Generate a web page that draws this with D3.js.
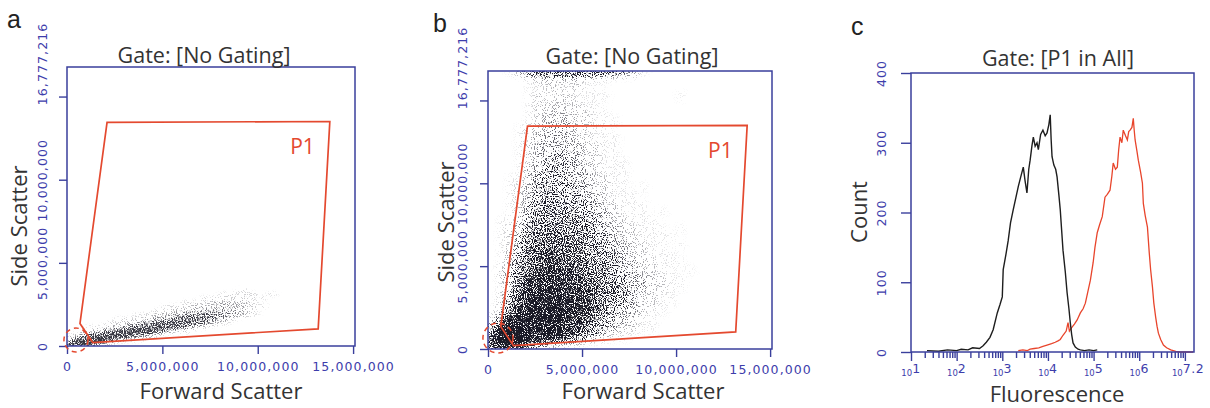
<!DOCTYPE html>
<html>
<head>
<meta charset="utf-8">
<script src="https://cdn.jsdelivr.net/npm/d3@7"></script>
<style>
  body { margin: 0; background: #fff; }
  svg { display: block; }
  .lab { font-family: "Open Sans", sans-serif; fill: #333; }
  .letter { font-family: "Liberation Sans", Arial, sans-serif; fill: #222; }
  .tick text, .dec { font-family: "DejaVu Sans", sans-serif; fill: #3d3dab; font-size: 12.5px; letter-spacing: 1.1px; }
  .tick line { stroke: #3a3f9c; stroke-width: 1.4; }
</style>
</head>
<body>
<div id="chart"></div>
<script>
// ---- data ----
const FSC_MAX = 15.1e6
const SSC_MAX = 16777216
const scatterTicks = [0, 5e6, 10e6, 15e6]
const fscTickLabels = ["0", "5,000,000", "10,000,000", "15,000,000"]
const sscTickLabels = ["0", "5,000,000", "10,000,000", ""]
const sscTopLabel = "16,777,216"

// P1 gate polygon (same gate on a and b), FSC / SSC
const gateP1 = [[2.1e6, 13.45e6], [13.78e6, 13.5e6], [13.17e6, 1.03e6], [1.35e6, 0.21e6], [0.68e6, 1.35e6]]
// small dashed gate round the origin: cx, cy, rx, ry
const originGateA = [0.47e6, 0.36e6, 0.63e6, 0.72e6]
const originGateB = [0.53e6, 0.66e6, 0.8e6, 0.9e6]

// event density (0-9), cells of 0.5M FSC x 0.25M SSC, top row first
const densityA = [
  "000000000000000000000000",
  "000000000000000000000000",
  "000000000000000000100000",
  "000000000000000011110100",
  "000000000000001111111000",
  "000000000000111222210000",
  "000000000011122232211000",
  "000000000112233333210000",
  "000000011223445443210000",
  "000001112345565431000000",
  "000011234667664210000000",
  "001123467776421000000000",
  "012357887531100000000000",
  "136798743100000000000000",
  "479963110000000000000000",
  "896310000000000000000000"
]
const cellA = [0.5e6, 0.25e6]

// event density (0-9), cells of 0.5M x 0.5M, top row first
const densityB = [
  "001356666666554310000000",
  "000012222211100000000000",
  "000011221211000000000000",
  "000012122111100000001000",
  "000012222211000000000000",
  "000012232221100000000000",
  "000012323221110000000000",
  "000122333221100000000000",
  "000123333221110000000000",
  "000123333322110000000000",
  "000123343322110000000000",
  "000123434322111000000000",
  "000133443332111000000000",
  "001134444332211000000000",
  "001234444432211010000000",
  "001234544433211100000000",
  "001244554443221110000000",
  "001245555443321110100000",
  "011345555544322111000000",
  "012355655554332211101000",
  "012456666554432211110000",
  "012456666655433221101000",
  "013466766655443221110000",
  "013566776665543322111000",
  "023567777665543322110100",
  "024677777766544332211000",
  "013677877766554332211000",
  "024778887776554322110000",
  "025788888776544322110000",
  "136888888776543321100000",
  "258888887765433211000000",
  "589888887765432211000000",
  "799988887643211000000000",
  "899854321100000000000000"
]
const cellB = [0.5e6, 0.5e6]

// histogram c: [log10 fluorescence, count]
const blackCurve = [[1.35,2],[1.6,1],[1.8,3],[2.0,2],[2.1,4],[2.25,3],[2.35,6],[2.5,5],[2.58,9],[2.65,14],[2.73,21],[2.8,32],[2.89,56],[2.95,68],[3.0,79],[3.02,118],[3.08,140],[3.13,160],[3.18,185],[3.24,204],[3.3,222],[3.35,237],[3.4,250],[3.46,265],[3.5,245],[3.54,228],[3.58,262],[3.61,275],[3.65,296],[3.68,308],[3.72,295],[3.76,300],[3.79,290],[3.84,312],[3.89,318],[3.94,310],[3.98,314],[4.02,326],[4.05,340],[4.07,305],[4.09,280],[4.13,268],[4.17,262],[4.2,251],[4.24,225],[4.27,204],[4.3,175],[4.33,146],[4.38,115],[4.42,85],[4.46,62],[4.49,42],[4.52,25],[4.55,13],[4.6,7],[4.66,4],[4.71,3],[4.8,2],[4.9,3],[5.0,2],[5.08,3]]
const redCurve = [[3.35,2],[3.45,3],[3.55,2],[3.61,4],[3.7,5],[3.8,6],[3.89,8],[3.98,10],[4.08,12],[4.16,14],[4.22,16],[4.27,18],[4.33,24],[4.4,30],[4.44,42],[4.47,30],[4.52,35],[4.58,40],[4.64,46],[4.71,56],[4.77,62],[4.82,70],[4.87,85],[4.93,103],[4.99,128],[5.03,150],[5.08,171],[5.13,182],[5.19,194],[5.25,222],[5.3,226],[5.36,232],[5.4,252],[5.43,271],[5.48,262],[5.52,265],[5.55,290],[5.58,308],[5.62,300],[5.65,318],[5.7,310],[5.74,304],[5.77,316],[5.8,318],[5.84,322],[5.87,335],[5.89,318],[5.91,304],[5.95,288],[5.98,275],[6.03,258],[6.07,242],[6.09,213],[6.13,196],[6.18,179],[6.22,142],[6.25,118],[6.29,93],[6.32,70],[6.36,50],[6.39,37],[6.42,27],[6.47,18],[6.53,10],[6.6,6],[6.69,3],[6.8,1],[6.9,0],[7.18,0]]
const countTicks = [0, 100, 200, 300, 400]
const fluorDecades = [1, 2, 3, 4, 5, 6, 7.2]

// ---- drawing ----
const W = 1210, H = 408
const FRAME = "#3a3f9c", GATE = "#e4492f"

const svg = d3.select("#chart").append("svg")
    .attr("width", W)
    .attr("height", H)

const defs = svg.append("defs")

function scatterPanel(o) {
    const x = d3.scaleLinear().domain([0, FSC_MAX]).range([o.left, o.right])
    const y = d3.scaleLinear().domain([0, SSC_MAX]).range([o.bottom, o.top])

    defs.append("clipPath").attr("id", "clip" + o.id)
        .append("rect")
        .attr("x", o.left).attr("y", o.top)
        .attr("width", o.right - o.left).attr("height", o.bottom - o.top)

    // soften the cells, then screen them into fine dots of one dark colour
    const f = defs.append("filter").attr("id", "dots" + o.id)
        .attr("color-interpolation-filters", "sRGB")
        .attr("x", "-5%").attr("y", "-5%").attr("width", "110%").attr("height", "110%")
    f.append("feGaussianBlur").attr("in", "SourceGraphic").attr("stdDeviation", o.blur).attr("result", "b")
    f.append("feTurbulence").attr("type", "fractalNoise").attr("baseFrequency", 0.9)
        .attr("numOctaves", 1).attr("seed", 4).attr("result", "n")
    f.append("feColorMatrix").attr("in", "n").attr("type", "matrix")
        .attr("values", "0 0 0 0 0  0 0 0 0 0  0 0 0 0 0  0 0 0 3 " + o.shift).attr("result", "m")
    f.append("feComposite").attr("in", "b").attr("in2", "m").attr("operator", "arithmetic")
        .attr("k1", 0).attr("k2", o.sharp).attr("k3", -o.sharp).attr("k4", 0).attr("result", "d")
    f.append("feColorMatrix").attr("in", "d").attr("type", "matrix")
        .attr("values", "0 0 0 0 " + o.rgb[0] + "  0 0 0 0 " + o.rgb[1] + "  0 0 0 0 " + o.rgb[2] + "  0 0 0 1 0")

    // density cloud
    const cells = []
    const n = o.grid.length
    o.grid.forEach(function (row, i) {
        const r = n - 1 - i
        for (let c = 0; c < row.length; c++) {
            const v = +row[c]
            if (v > 0) cells.push({c: c, r: r, v: v})
        }
    })
    svg.append("g").attr("clip-path", "url(#clip" + o.id + ")")
        .append("g").attr("filter", "url(#dots" + o.id + ")")
        .selectAll("rect")
        .data(cells)
        .enter()
        .append("rect")
        .attr("x", d => x(d.c * o.cell[0]))
        .attr("width", d => x((d.c + 1) * o.cell[0]) - x(d.c * o.cell[0]))
        .attr("y", d => y((d.r + 1) * o.cell[1]))
        .attr("height", d => y(d.r * o.cell[1]) - y((d.r + 1) * o.cell[1]))
        .attr("fill", "#000")
        .attr("fill-opacity", d => Math.pow(d.v / 9, o.gamma))

    // axes
    const gx = svg.append("g")
        .attr("transform", "translate(0," + o.bottom + ")")
        .call(d3.axisBottom(x).tickValues(scatterTicks).tickSize(8).tickSizeOuter(0)
            .tickFormat((d, i) => fscTickLabels[i]))
    gx.select(".domain").remove()
    gx.selectAll(".tick text").attr("y", 25).attr("dy", 0)

    const gy = svg.append("g")
        .attr("transform", "translate(" + o.left + ",0)")
        .call(d3.axisLeft(y).tickValues(scatterTicks).tickSize(8).tickSizeOuter(0)
            .tickFormat((d, i) => sscTickLabels[i]))
    gy.select(".domain").remove()
    gy.selectAll(".tick text")
        .attr("transform", "rotate(-90)")
        .attr("x", 0).attr("y", -o.yLab).attr("dy", 0)
        .style("text-anchor", "middle")
    gy.append("text").attr("class", "dec")
        .attr("transform", "translate(" + (-o.yLab) + "," + (y(SSC_MAX) - 3) + ") rotate(-90)")
        .style("text-anchor", "middle")
        .text(sscTopLabel)

    // frame
    svg.append("rect")
        .attr("x", o.left).attr("y", o.top)
        .attr("width", o.right - o.left).attr("height", o.bottom - o.top)
        .attr("fill", "none").attr("stroke", FRAME).attr("stroke-width", 1.5)

    // gates
    svg.append("path")
        .attr("d", d3.line().x(d => x(d[0])).y(d => y(d[1])).curve(d3.curveLinearClosed)(gateP1))
        .attr("fill", "none").attr("stroke", GATE).attr("stroke-width", 1.7)
    svg.append("ellipse")
        .attr("cx", x(o.origin[0])).attr("cy", y(o.origin[1]))
        .attr("rx", x(o.origin[2]) - x(0)).attr("ry", y(0) - y(o.origin[3]))
        .attr("fill", "none").attr("stroke", GATE).attr("stroke-width", 1.5)
        .attr("stroke-dasharray", "5,4")
    svg.append("text").attr("class", "lab")
        .attr("x", x(11.7e6)).attr("y", y(11.55e6))
        .style("fill", GATE).style("font-size", "21px")
        .text("P1")

    labels(o)
}

function labels(o) {
    svg.append("text").attr("class", "letter")
        .attr("x", o.letterX).attr("y", o.letterY)
        .style("font-size", "25px").text(o.id)
    svg.append("text").attr("class", "lab")
        .attr("x", o.titleX).attr("y", o.titleY)
        .style("text-anchor", "middle").style("font-size", "21.5px")
        .text(o.title)
    svg.append("text").attr("class", "lab")
        .attr("x", o.xTitleX).attr("y", o.xTitleY)
        .style("text-anchor", "middle").style("font-size", "22px")
        .text(o.xTitle)
    svg.append("text").attr("class", "lab")
        .attr("transform", "translate(" + o.yTitleX + "," + o.yTitleY + ") rotate(-90)")
        .style("text-anchor", "middle").style("font-size", "22px")
        .text(o.yTitle)
}

scatterPanel({
    id: "a", left: 67, top: 67, right: 355, bottom: 346,
    grid: densityA, cell: cellA, blur: "3 1.6", sharp: 2.2, shift: -1.15, gamma: 1.0,
    rgb: [0.22, 0.22, 0.26], origin: originGateA, yLab: 20,
    letterX: 7, letterY: 28, title: "Gate: [No Gating]", titleX: 204, titleY: 63,
    xTitle: "Forward Scatter", xTitleX: 221, xTitleY: 399,
    yTitle: "Side Scatter", yTitleX: 27, yTitleY: 226
})

scatterPanel({
    id: "b", left: 488, top: 71, right: 772, bottom: 349,
    grid: densityB, cell: cellB, blur: 3, sharp: 4, shift: -1.15, gamma: 1.6,
    rgb: [0.1, 0.1, 0.15], origin: originGateB, yLab: 21,
    letterX: 433, letterY: 32, title: "Gate: [No Gating]", titleX: 632, titleY: 64,
    xTitle: "Forward Scatter", xTitleX: 643, xTitleY: 399,
    yTitle: "Side Scatter", yTitleX: 454, yTitleY: 222
})

// ---- panel c: fluorescence histogram ----
const c = {left: 911, top: 73, right: 1194, bottom: 352}
const xC = d3.scaleLog().domain([10, Math.pow(10, 7.2)]).range([c.left, c.right])
const yC = d3.scaleLinear().domain([0, 400]).range([c.bottom, c.top])

const gxc = svg.append("g")
    .attr("transform", "translate(0," + c.bottom + ")")
    .call(d3.axisBottom(xC).tickValues(xC.ticks()).tickSize(6).tickSizeOuter(0).tickFormat(""))
gxc.select(".domain").remove()
gxc.selectAll(".tick line")
    .attr("y2", d => Math.abs(Math.log10(d) - Math.round(Math.log10(d))) < 1e-9 ? 9 : 6)

const decLab = svg.append("g")
    .selectAll("text")
    .data(fluorDecades)
    .enter()
    .append("text").attr("class", "dec")
    .attr("x", (d, i) => xC(Math.pow(10, d)) - (i === fluorDecades.length - 1 ? 6 : 0))
    .attr("y", c.bottom + 24)
    .style("text-anchor", "middle")
decLab.append("tspan").style("font-size", "8.5px").style("letter-spacing", "0px").text("10")
decLab.append("tspan").attr("dy", -3).style("font-size", "12.5px").style("letter-spacing", "0.5px").text(d => String(d))

const gyc = svg.append("g")
    .attr("transform", "translate(" + c.left + ",0)")
    .call(d3.axisLeft(yC).tickValues(countTicks).tickSize(10).tickSizeOuter(0))
gyc.select(".domain").remove()
gyc.selectAll(".tick text")
    .attr("transform", "rotate(-90)")
    .attr("x", 0).attr("y", -25).attr("dy", 0)
    .style("text-anchor", "middle")

const histLine = d3.line()
    .x(d => xC(Math.pow(10, d[0])))
    .y(d => yC(d[1]))
svg.append("path").attr("d", histLine(redCurve))
    .attr("fill", "none").attr("stroke", "#e8452c").attr("stroke-width", 1.3)
svg.append("path").attr("d", histLine(blackCurve))
    .attr("fill", "none").attr("stroke", "#1e1e1e").attr("stroke-width", 1.4)

svg.append("rect")
    .attr("x", c.left).attr("y", c.top)
    .attr("width", c.right - c.left).attr("height", c.bottom - c.top)
    .attr("fill", "none").attr("stroke", FRAME).attr("stroke-width", 1.5)

labels({
    id: "c", letterX: 851, letterY: 35, title: "Gate: [P1 in All]", titleX: 1058, titleY: 66,
    xTitle: "Fluorescence", xTitleX: 1057, xTitleY: 402,
    yTitle: "Count", yTitleX: 867, yTitleY: 212
})
</script>
</body>
</html>
